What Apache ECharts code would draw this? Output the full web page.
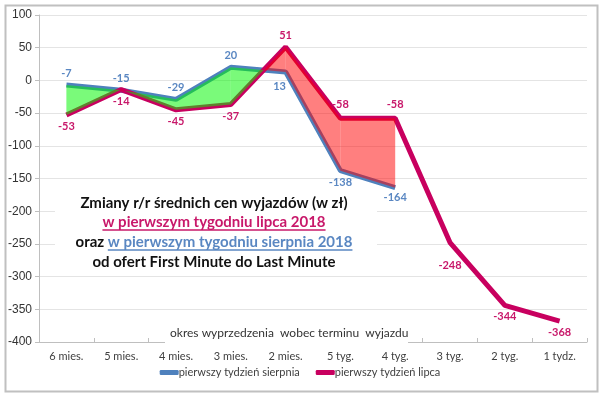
<!DOCTYPE html>
<html><head><meta charset="utf-8">
<script src="https://cdn.jsdelivr.net/npm/echarts@6/dist/echarts.min.js"></script>
<style>html,body{margin:0;padding:0;background:#fff}#c{width:600px;height:395px}</style>
</head><body><div id="c"></div>
<script>
const categories = ['6 mies.','5 mies.','4 mies.','3 mies.','2 mies.','5 tyg.','4 tyg.','3 tyg.','2 tyg.','1 tydz.'];
const sierpnia = [-7,-15,-29,20,13,-138,-164,null,null,null];
const lipca = [-53,-14,-45,-37,51,-58,-58,-248,-344,-368];
const yTicks = {min:-400, max:100, interval:50};
const seriesNames = ['pierwszy tydzień sierpnia','pierwszy tydzień lipca'];

const BLUE = '#4f81bd', PINK = '#c8005f';
const bluePos = ['top','top','top','top','bottom','bottom','bottom'];
const blueOff = [null,null,null,null,[-6,3],null,[0,-2]];
const pinkPos = ['bottom','bottom','bottom','bottom','top','top','top','bottom','bottom','bottom'];
const pinkOff = [null,null,null,null,null,[0,-2],[0,-2],[0,11],null,null];

const chart = echarts.init(document.getElementById('c'));
const nSeg = sierpnia.filter(v=>v!==null).length - 1;
const segs = []; for (let i=0;i<nSeg;i++) segs.push([i]);

function renderFill(params, api){
  const i = api.value(0);
  const a0 = api.coord([i, sierpnia[i]]), a1 = api.coord([i+1, sierpnia[i+1]]);
  const b0 = api.coord([i, lipca[i]]),  b1 = api.coord([i+1, lipca[i+1]]);
  const d0 = sierpnia[i]-lipca[i], d1 = sierpnia[i+1]-lipca[i+1];
  const G = 'rgba(0,245,0,0.52)', R = 'rgba(255,0,0,0.5)';
  const children = [];
  if (d0*d1 >= 0) {
    children.push({type:'polygon', shape:{points:[a0,a1,b1,b0]}, style:{fill:(d0+d1)>0?G:R}});
  } else {
    const t = d0/(d0-d1);
    const p = [a0[0]+t*(a1[0]-a0[0]), a0[1]+t*(a1[1]-a0[1])];
    children.push({type:'polygon', shape:{points:[a0,p,b0]}, style:{fill:d0>0?G:R}});
    children.push({type:'polygon', shape:{points:[p,a1,b1]}, style:{fill:d1>0?G:R}});
  }
  return {type:'group', children};
}

const lblFont = {fontFamily:'Lato', fontWeight:'bold', fontSize:11};
function lbl(pos, off){ const o = {position:pos}; if (off) o.offset = off; return o; }

const cv = document.createElement('canvas').getContext('2d');
function tw(txt, font){ cv.font = font; return cv.measureText(txt).width; }
const TF = 'bold 15px Lato';
const cx = 214;
const l2 = 'w pierwszym tygodniu lipca 2018';
const l3a = 'oraz ', l3b = 'w pierwszym tygodniu sierpnia 2018';
const w2 = tw(l2, TF), w3a = tw(l3a, TF), w3b = tw(l3b, TF);
const l3start = cx - (w3a+w3b)/2;

chart.setOption({
  animation:false,
  grid:{left:39, right:13, top:15, bottom:53},
  xAxis:[{
    type:'category', data:categories, position:'bottom',
    axisLine:{show:false}, axisTick:{show:false},
    axisLabel:{fontFamily:'Lato', fontSize:11, color:'#404040', margin:9}
  },{
    type:'category', data:categories, position:'bottom',
    axisLine:{show:true, onZero:true, lineStyle:{color:'#bfbfbf', width:1}},
    axisTick:{show:true, inside:true, length:4, lineStyle:{color:'#bfbfbf'}},
    axisLabel:{show:false}
  }],
  yAxis:{
    type:'value', min:yTicks.min, max:yTicks.max, interval:yTicks.interval,
    axisLine:{show:true, lineStyle:{color:'#bfbfbf'}},
    axisTick:{show:true, length:4, lineStyle:{color:'#bfbfbf'}},
    splitLine:{lineStyle:{color:'#e4e4e4'}},
    axisLabel:{fontFamily:'Liberation Sans', fontSize:12, color:'#333', margin:7}
  },
  legend:{
    bottom:12, left:'center', itemWidth:19, itemHeight:5, itemGap:16,
    icon:'roundRect',
    textStyle:{fontFamily:'Lato', fontSize:11, color:'#404040', padding:[0,0,0,-5]},
    data:seriesNames
  },
  series:[
    {
      name:seriesNames[0], type:'line', data:sierpnia.map((v,i)=>({value:v, label:lbl(bluePos[i]||'top', blueOff[i])})),
      symbol:'circle', symbolSize:0.01, showSymbol:true, lineStyle:{color:BLUE, width:5}, itemStyle:{color:BLUE}, z:2,
      label:{show:true, color:'#5a87c2', distance:6, ...lblFont}
    },
    {
      name:seriesNames[1], type:'line', data:lipca.map((v,i)=>({value:v, label:lbl(pinkPos[i], pinkOff[i])})),
      symbol:'circle', symbolSize:0.01, showSymbol:true, lineStyle:{color:PINK, width:5}, itemStyle:{color:PINK}, z:2,
      label:{show:true, color:'#c8186a', distance:6, ...lblFont}
    },
    {
      type:'custom', data:segs, renderItem:renderFill, z:3, silent:true,
      encode:{x:0}
    }
  ],
  graphic:[
    {type:'rect', left:3, top:3, shape:{width:592, height:386}, style:{fill:'none', stroke:'#c0c0c0', lineWidth:2}, silent:true},
    {type:'rect', shape:{x:55, y:190, width:322, height:82}, style:{fill:'#fff'}, z:1},
    {type:'rect', shape:{x:165, y:326, width:243, height:19}, style:{fill:'#fff'}, z:1},
    {type:'text', left:170, top:327, z:2, style:{text:'okres wyprzedzenia  wobec terminu  wyjazdu', font:'12px Lato', fill:'#333'}},
    {type:'text', x:cx, y:203, z:2, style:{text:'Zmiany r/r średnich cen wyjazdów (w zł)', font:TF, fill:'#111', textAlign:'center', verticalAlign:'middle'}},
    {type:'text', x:cx, y:222, z:2, style:{text:l2, font:TF, fill:'#c8186a', textAlign:'center', verticalAlign:'middle'}},
    {type:'line', z:2, shape:{x1:cx-w2/2, y1:230, x2:cx+w2/2, y2:230}, style:{stroke:'#c8186a', lineWidth:1.3}},
    {type:'text', x:l3start, y:242, z:2, style:{text:l3a, font:TF, fill:'#111', textAlign:'left', verticalAlign:'middle'}},
    {type:'text', x:l3start+w3a, y:242, z:2, style:{text:l3b, font:TF, fill:'#5a87c2', textAlign:'left', verticalAlign:'middle'}},
    {type:'line', z:2, shape:{x1:l3start+w3a, y1:250, x2:l3start+w3a+w3b, y2:250}, style:{stroke:'#5a87c2', lineWidth:1.3}},
    {type:'text', x:cx, y:262, z:2, style:{text:'od ofert First Minute do Last Minute', font:TF, fill:'#111', textAlign:'center', verticalAlign:'middle'}}
  ]
});
</script></body></html>
